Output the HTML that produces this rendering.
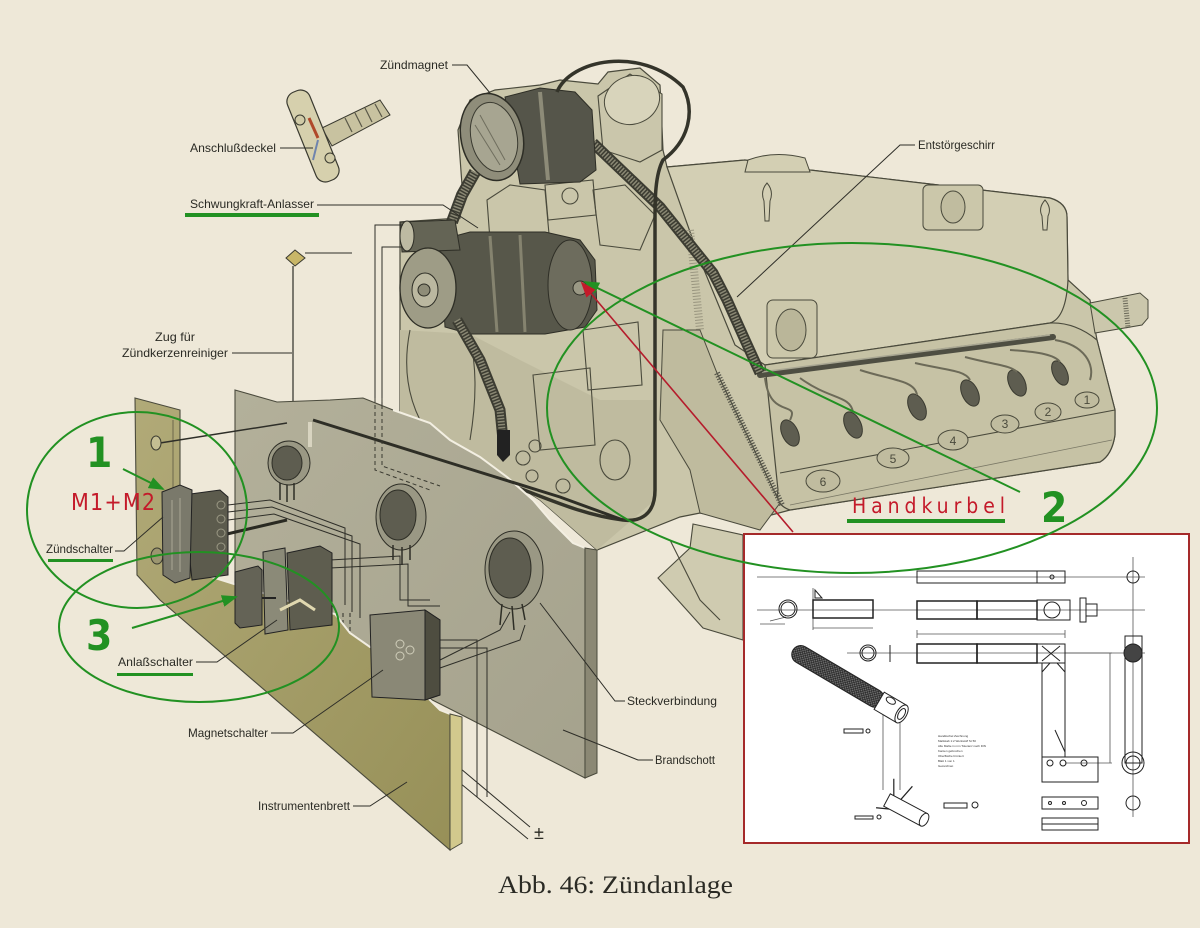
<!DOCTYPE html>
<html><head><meta charset="utf-8">
<style>
html,body{margin:0;padding:0;background:#eee8d8;}
svg{display:block}
.lbl{font-family:"Liberation Sans","DejaVu Sans",sans-serif;font-size:12px;fill:#2a2a24}
.ld{stroke:#2e2e28;stroke-width:1;fill:none}
.ol{stroke:#4a4a3c;stroke-width:1.1;fill:none}
.num{font-family:"Liberation Sans Narrow","DejaVu Sans Condensed","Liberation Sans",sans-serif;fill:#229122;font-weight:bold}
.red{font-family:"Liberation Sans Narrow","DejaVu Sans Condensed","Liberation Sans",sans-serif;fill:#c41a2a}
.tiny{font-family:"Liberation Sans",sans-serif;font-size:3px;fill:#333}
</style></head><body>
<svg width="1200" height="928" viewBox="0 0 1200 928" xmlns="http://www.w3.org/2000/svg">
<defs>
 <marker id="ag" markerUnits="userSpaceOnUse" markerWidth="16" markerHeight="12" refX="14" refY="6" orient="auto"><path d="M0,0 L16,6 L0,12 z" fill="#229122"/></marker>
 <marker id="ar" markerUnits="userSpaceOnUse" markerWidth="16" markerHeight="12" refX="14" refY="6" orient="auto"><path d="M0,0 L16,6 L0,12 z" fill="#c41a2a"/></marker>
 <linearGradient id="ib" x1="0" y1="0" x2="1" y2="1">
  <stop offset="0" stop-color="#b1aa78"/><stop offset="1" stop-color="#979058"/>
 </linearGradient>
 <linearGradient id="bs" x1="0" y1="0" x2="1" y2="1">
  <stop offset="0" stop-color="#b3b09a"/><stop offset="1" stop-color="#a5a28d"/>
 </linearGradient>
 <pattern id="knurl" width="3" height="3" patternUnits="userSpaceOnUse"><rect width="3" height="3" fill="#777"/><path d="M0,0 L3,3 M3,0 L0,3" stroke="#222" stroke-width="0.7"/></pattern>
</defs>
<rect width="1200" height="928" fill="#eee8d8"/>

<!-- ================= ENGINE ================= -->
<path d="M400,222 L460,218 L462,185 L458,130 L470,100 L495,90 L540,85 L560,80 L598,84 L608,72 L640,68 L660,85 L663,150 L667,167 L745,160 L810,170 L1050,198 Q1067,203 1067,217 L1068,280 L1090,300 L1097,340 L1115,410 L1115,435 Q1112,455 1100,462 L790,510 L745,522 L700,513 L680,517 L597,550 L540,500 L470,455 L400,420 Z" fill="#cac6aa" stroke="#4a4a3c" stroke-width="1.2"/>
<path d="M400,330 L470,334 L520,360 L600,400 L655,400 L655,500 L597,550 L540,500 L470,455 L400,420 Z" fill="#bfbb9f"/>
<path d="M693,524 L743,535 L743,640 L703,628 L658,578 L690,548 Z" fill="#cfcbb0" stroke="#4a4a3c" stroke-width="1.1"/>
<path d="M670,540 L700,600 L720,620" class="ol"/>
<!-- valve cover -->
<path d="M667,167 L745,160 L810,170 L1050,198 Q1067,203 1067,217 L1068,280 Q1066,318 1050,323 L765,365 L735,345 L700,260 Z" fill="#d3cfb4" stroke="#4a4a3c" stroke-width="1.2"/>
<path d="M745,172 L748,160 Q775,150 805,158 L810,172 Z" fill="#d3cfb3" stroke="#4a4a3c"/>
<path d="M767,183 q-7,8 -3,18 l1,20 l4,0 l1,-20 q4,-10 -3,-18 z" fill="none" stroke="#4a4a3c"/>
<rect x="923" y="185" width="60" height="45" rx="5" fill="#cbc7aa" stroke="#4a4a3c"/>
<ellipse cx="953" cy="207" rx="12" ry="16" fill="#c0bc9f" stroke="#4a4a3c"/>
<path d="M1045,200 q-7,8 -3,16 l1,14 l4,0 l1,-14 q4,-8 -3,-16 z" fill="none" stroke="#4a4a3c"/>
<rect x="767" y="300" width="50" height="58" rx="6" fill="#cbc7aa" stroke="#4a4a3c"/>
<ellipse cx="791" cy="330" rx="15" ry="21" fill="#bab699" stroke="#4a4a3c"/>
<path d="M690,230 L700,330" stroke="#9a9680" stroke-width="8" stroke-dasharray="1 2"/>
<!-- lower block -->
<path d="M765,365 L1050,323 Q1075,322 1097,340 L1115,410 L1115,435 Q1112,455 1100,462 L790,510 Q775,505 778,490 Z" fill="#c6c2a5" stroke="#4a4a3c" stroke-width="1.2"/>
<path d="M780,473 L1115,410" class="ol"/>
<path d="M790,505 L1112,440" stroke="#7a7866" stroke-width="0.8" fill="none"/>
<path d="M700,330 L717,373 L780,503 L760,530 L700,513 L690,470 L660,420 L663,330 Z" fill="#bfbb9e" stroke="#4a4a3c"/>
<path d="M717,373 L782,505" stroke="#55554a" stroke-width="6" stroke-dasharray="1.2 1.6"/>
<g stroke="#4a4a3c" stroke-width="1" fill="#c0bc9f">
 <ellipse cx="823" cy="481" rx="17" ry="11"/>
 <ellipse cx="893" cy="458" rx="16" ry="10"/>
 <ellipse cx="953" cy="440" rx="15" ry="10"/>
 <ellipse cx="1005" cy="424" rx="14" ry="9"/>
 <ellipse cx="1048" cy="412" rx="13" ry="9"/>
 <ellipse cx="1087" cy="400" rx="12" ry="8"/>
</g>
<g font-family="Liberation Sans,sans-serif" font-size="12" fill="#4a4a3c" text-anchor="middle">
 <text x="823" y="486">6</text><text x="893" y="463">5</text><text x="953" y="445">4</text>
 <text x="1005" y="428">3</text><text x="1048" y="416">2</text><text x="1087" y="404">1</text>
</g>
<!-- shaft right -->
<path d="M1090,303 L1140,293 L1148,300 L1148,318 L1142,325 L1095,333 Z" fill="#cbc7ac" stroke="#4a4a3c"/>
<path d="M1125,298 L1128,328" stroke="#6a6858" stroke-width="5" stroke-dasharray="1 1.5"/>
<!-- spark plug rail -->
<path d="M760,375 L1053,337" stroke="#4e4e42" stroke-width="6" stroke-linecap="round"/>
<path d="M762,372 L1050,335" stroke="#a8a692" stroke-width="1.5"/>
<g fill="#5e5d50" stroke="#3a3a30" stroke-width="1">
 <ellipse cx="790" cy="433" rx="8" ry="14" transform="rotate(-25 790 433)"/>
 <ellipse cx="853" cy="425" rx="8" ry="14" transform="rotate(-25 853 425)"/>
 <ellipse cx="917" cy="407" rx="8" ry="14" transform="rotate(-25 917 407)"/>
 <ellipse cx="970" cy="393" rx="8" ry="14" transform="rotate(-25 970 393)"/>
 <ellipse cx="1017" cy="383" rx="8" ry="14" transform="rotate(-25 1017 383)"/>
 <ellipse cx="1060" cy="373" rx="7" ry="13" transform="rotate(-25 1060 373)"/>
</g>
<path d="M765,378 C770,420 800,400 790,420 M800,378 C830,400 850,395 853,412 M860,370 C890,380 915,380 917,395 M915,363 C945,370 965,370 970,380 M965,357 C995,365 1010,365 1017,372 M1010,350 C1040,352 1055,355 1060,362 M1055,340 C1085,345 1095,365 1090,380" stroke="#6c6a58" stroke-width="2" fill="none"/>
<!-- middle engine details -->
<path d="M487,200 L510,185 L545,190 L550,245 L520,252 L490,240 Z" fill="#c6c2a6" class="ol"/>
<path d="M545,185 L593,180 L596,215 L548,220 Z" fill="#d0ccb2" class="ol"/>
<circle cx="570" cy="196" r="8" class="ol"/>
<path d="M593,190 L625,185 L655,215 L640,250 L600,245 Z" fill="#cac6aa" class="ol"/>
<path d="M533,375 L590,368 L595,445 L540,450 Z" fill="#d0ccb2" class="ol"/>
<path d="M583,330 L638,322 L642,385 L588,390 Z" fill="#ccc8ad" class="ol"/>
<circle cx="523" cy="458" r="7" class="ol"/><circle cx="535" cy="446" r="6" class="ol"/><circle cx="532" cy="476" r="6" class="ol"/><circle cx="563" cy="486" r="7" class="ol"/>
<ellipse cx="615" cy="460" rx="15" ry="20" class="ol"/>
<path d="M410,330 Q400,380 420,420 M470,340 Q480,380 470,440" class="ol"/>
<!-- intake pipe -->
<path d="M598,96 L630,74 L662,94 L662,150 L640,162 L603,150 Z" fill="#cac6ab" stroke="#4a4a3c" stroke-width="1.1"/>
<ellipse cx="632" cy="100" rx="28" ry="24" transform="rotate(-20 632 100)" fill="#d8d4bb" stroke="#4a4a3c"/>
<!-- conduit magneto to plug rail -->
<path d="M593,143 L660,207 L713,273 L727,300 L745,340 L760,373" stroke="#3c3c32" stroke-width="11" fill="none" stroke-linejoin="round"/>
<path d="M593,143 L660,207 L713,273 L727,300 L745,340 L760,373" stroke="#8a8874" stroke-width="7" fill="none" stroke-dasharray="1.5 1.5"/>
<!-- magneto -->
<path d="M505,97 L540,88 L575,92 L592,110 L596,170 L580,182 L520,184 Z" fill="#55554a" stroke="#2e2e26"/>
<path d="M540,92 L548,180" stroke="#8d8b78" stroke-width="4"/>
<ellipse cx="492" cy="137" rx="31" ry="44" transform="rotate(-12 492 137)" fill="#8f8d7a" stroke="#2e2e26" stroke-width="1.5"/>
<ellipse cx="494" cy="137" rx="23" ry="35" transform="rotate(-12 494 137)" fill="#a7a591" stroke="#3a3a30"/>
<path d="M480,115 L505,160 M475,125 L500,165" stroke="#6f6e5e" stroke-width="1"/>
<!-- conduit magneto to starter -->
<path d="M475,172 L462,195 L452,222" stroke="#3c3c32" stroke-width="12" fill="none"/>
<path d="M475,172 L462,195 L452,222" stroke="#8a8874" stroke-width="8" fill="none" stroke-dasharray="1.5 1.5"/>
<!-- starter -->
<path d="M440,240 L470,232 L545,232 L580,240 L595,260 L597,310 L585,327 L545,334 L470,334 L445,327 Z" fill="#57574a" stroke="#2e2e26"/>
<ellipse cx="570" cy="285" rx="22" ry="45" fill="#6d6c5d" stroke="#2e2e26"/>
<circle cx="580" cy="288" r="7" fill="#9a9884" stroke="#2e2e26"/>
<path d="M490,236 L497,332 M520,235 L525,332" stroke="#85836f" stroke-width="3"/>
<path d="M400,222 L455,220 L460,250 L402,252 Z" fill="#646455" stroke="#2e2e26"/>
<ellipse cx="407" cy="236" rx="7" ry="15" fill="#bdbaa2" stroke="#2e2e26"/>
<ellipse cx="428" cy="288" rx="28" ry="40" fill="#9e9c86" stroke="#2e2e26" stroke-width="1.3"/>
<ellipse cx="425" cy="290" rx="13" ry="17" fill="#bbb8a0" stroke="#2e2e26"/>
<circle cx="424" cy="290" r="6" fill="#8f8d78" stroke="#2e2e26"/>
<path d="M457,320 L480,360 L500,410 L503,440" stroke="#3c3c32" stroke-width="11" fill="none"/>
<path d="M457,320 L480,360 L500,410 L503,440" stroke="#8a8874" stroke-width="7" fill="none" stroke-dasharray="1.5 1.5"/>
<path d="M497,430 L510,430 L510,455 L503,462 L497,455 Z" fill="#222"/>
<!-- loop cable -->
<path d="M557,92 C570,60 640,45 683,87 C695,110 690,140 663,160 C655,175 655,200 655,220 L655,490 C655,515 640,522 623,520 C580,515 540,495 497,480 L380,440 L313,420" stroke="#34342a" stroke-width="3.5" fill="none"/>
<!-- Anschlussdeckel part -->
<g>
 <path d="M322,128 L380,100 L390,115 L332,146 Z" fill="#c8c2a0" stroke="#3a3a30"/>
 <path d="M345,118 L352,132 M355,113 L362,127 M365,108 L372,122 M375,104 L382,117" stroke="#5a5848" stroke-width="1.2"/>
 <rect x="301" y="88" width="24" height="96" rx="10" transform="rotate(-22 313 136)" fill="#d6d0ad" stroke="#3a3a30" stroke-width="1.2"/>
 <circle cx="300" cy="120" r="5" fill="#d0caa6" stroke="#3a3a30"/>
 <circle cx="330" cy="158" r="5" fill="#d0caa6" stroke="#3a3a30"/>
 <path d="M309,118 L318,138" stroke="#b0492a" stroke-width="3"/>
 <path d="M318,140 L313,160" stroke="#6f84ad" stroke-width="2"/>
</g>
<!-- spark plug cleaner pull -->
<path d="M286,258 L295,250 L305,258 L295,266 Z" fill="#c8b668" stroke="#3a3a30"/>
<path d="M305,253 L352,253" class="ld"/>
<path d="M293,266 L293,425" stroke="#2e2e28" stroke-width="1.2"/>
<!-- starter wires -->
<path d="M403,225 L375,225 L375,470" stroke="#2e2e28" stroke-width="1" fill="none"/>
<path d="M402,247 L382,247 L382,470" stroke="#2e2e28" stroke-width="1" fill="none"/>

<!-- ================= BRANDSCHOTT ================= -->
<path d="M235,390 L277,402 L330,400 L363,398 L393,410 L430,423 L450,440 L480,457 L507,477 L533,500 L550,520 L573,543 L585,548 L585,778 L460,714 L235,600 Z" fill="url(#bs)" stroke="#4a4a3c" stroke-width="1.1"/>
<path d="M393,410 L430,423 L450,440 L480,457 L507,477 L533,500 L550,520 L573,543 L585,548" stroke="#f3efe2" stroke-width="2" fill="none"/>
<path d="M585,548 L597,550 L597,773 L585,778 Z" fill="#8b8874" stroke="#4a4a3c"/>
<path d="M313,420 L460,466 L560,497 L623,520" stroke="#2e2e26" stroke-width="3" fill="none"/>
<path d="M310,422 L310,447" stroke="#d8d4c0" stroke-width="4"/>
<path d="M375,398 L375,470 L430,490 M382,398 L382,466 L440,486" stroke="#3a3a30" stroke-width="1" stroke-dasharray="4 3" fill="none"/>
<!-- gauges -->
<g stroke="#2e2e26">
 <ellipse cx="289" cy="463" rx="21" ry="22" fill="#9a9884"/>
 <ellipse cx="287" cy="463" rx="15" ry="17" fill="#5e5d50"/>
 <path d="M280,483 L280,500 M287,485 L287,502 M294,483 L294,500" stroke-width="1.5"/>
 <ellipse cx="401" cy="517" rx="25" ry="33" fill="#9a9884"/>
 <ellipse cx="398" cy="515" rx="18" ry="25" fill="#5e5d50"/>
 <path d="M393,545 L393,560 M402,547 L402,565 M410,545 L410,560" stroke-width="1.5"/>
 <ellipse cx="514" cy="570" rx="29" ry="39" fill="#9a9884"/>
 <ellipse cx="510" cy="568" rx="21" ry="30" fill="#5e5d50"/>
 <path d="M502,604 L500,625 M512,606 L514,630 M522,604 L525,620" stroke-width="1.5"/>
</g>
<!-- wires on brandschott -->
<g stroke="#2e2e28" stroke-width="1" fill="none">
 <path d="M228,505 L270,500 L345,528 L345,605"/>
 <path d="M228,512 L272,507 L352,536 L352,612"/>
 <path d="M228,520 L274,514 L360,544 L360,618"/>
 <path d="M330,560 L400,556 L400,600 L430,600"/>
 <path d="M330,568 L408,564 L408,606 L440,606"/>
 <path d="M440,640 L477,640 L477,797"/>
 <path d="M440,648 L487,648 L487,797"/>
 <path d="M440,660 L500,630 L510,612"/>
 <path d="M440,668 L520,640 L525,625"/>
 <path d="M347,673 L530,827"/>
 <path d="M347,690 L528,839"/>
 <path d="M343,613 L343,713 M350,613 L350,713" stroke-dasharray="4 3"/>
</g>
<path d="M227,534 L287,520" stroke="#2a2a22" stroke-width="3"/>

<!-- ================= INSTRUMENTENBRETT ================= -->
<path d="M135,398 L180,410 L180,567 L317,610 L335,614 L350,633 L370,647 L385,648 L397,663 L420,690 L440,710 L450,714 L450,850 L160,600 L137,575 Z" fill="url(#ib)" stroke="#4a4a3c" stroke-width="1.1"/>
<path d="M180,567 L317,610 L335,614 L350,633 L370,647 L385,648 L397,663 L420,690 L440,710 L450,714" stroke="#f1ede0" stroke-width="2" fill="none"/>
<path d="M450,714 L462,717 L462,843 L450,850 Z" fill="#d2c98d" stroke="#4a4a3c"/>
<path d="M173,420 L173,560" stroke="#8d8760" stroke-width="2"/>
<path d="M160,443 L287,423" stroke="#2e2e28" stroke-width="1.5"/>
<ellipse cx="156" cy="443" rx="5" ry="7" fill="#c4be92" stroke="#3a3a30"/>
<ellipse cx="157" cy="556" rx="6" ry="8" fill="#9c9670" stroke="#3a3a30"/>
<!-- Zündschalter -->
<path d="M183,495 L220,490 L228,497 L228,575 L192,580 Z" fill="#5c5b4d" stroke="#222"/>
<path d="M162,492 L180,485 L192,490 L190,578 L175,583 L163,575 Z" fill="#7a796b" stroke="#222"/>
<g fill="none" stroke="#9a9884"><circle cx="221" cy="505" r="4"/><circle cx="221" cy="519" r="4"/><circle cx="221" cy="533" r="4"/><circle cx="221" cy="547" r="4"/></g>
<path d="M172,500 L172,570 M180,498 L180,572" stroke="#a9a796" stroke-width="1"/>
<!-- Anlaßschalter -->
<path d="M287,553 L320,546 L332,553 L332,625 L290,630 Z" fill="#5e5d4f" stroke="#222"/>
<path d="M263,552 L285,548 L288,630 L265,634 Z" fill="#8b8a78" stroke="#222"/>
<path d="M235,572 L258,566 L262,570 L262,625 L240,628 L235,623 Z" fill="#646356" stroke="#222"/>
<path d="M262,598 L276,598" stroke="#222" stroke-width="2"/>
<path d="M280,610 L300,600 L315,610" stroke="#e0d8b0" stroke-width="3" fill="none"/>
<!-- Magnetschalter -->
<path d="M370,615 L425,610 L440,620 L440,695 L425,700 L372,697 Z" fill="#8a8876" stroke="#222"/>
<path d="M425,610 L440,620 L440,695 L425,700 Z" fill="#4e4d40" stroke="#222"/>
<g fill="none" stroke="#d0ceba"><circle cx="400" cy="644" r="4"/><circle cx="400" cy="656" r="4"/><circle cx="410" cy="650" r="4"/></g>

<!-- ================= LABELS ================= -->
<text class="lbl" x="380" y="69" textLength="68" lengthAdjust="spacingAndGlyphs">Zündmagnet</text>
<path class="ld" d="M452,65 H467 L490,93"/>
<text class="lbl" x="190" y="152" textLength="86" lengthAdjust="spacingAndGlyphs">Anschlußdeckel</text>
<path class="ld" d="M280,148 H313"/>
<text class="lbl" x="190" y="208" textLength="124" lengthAdjust="spacingAndGlyphs">Schwungkraft-Anlasser</text>
<path class="ld" d="M317,205 H443 L478,228"/>
<text class="lbl" x="918" y="149" textLength="77" lengthAdjust="spacingAndGlyphs">Entstörgeschirr</text>
<path class="ld" d="M915,145 H900 L737,297"/>
<text class="lbl" x="155" y="341" textLength="40" lengthAdjust="spacingAndGlyphs">Zug für</text>
<text class="lbl" x="122" y="357" textLength="106" lengthAdjust="spacingAndGlyphs">Zündkerzenreiniger</text>
<path class="ld" d="M232,353 H292"/>
<text class="lbl" x="46" y="553" textLength="67" lengthAdjust="spacingAndGlyphs">Zündschalter</text>
<path class="ld" d="M115,551 H124 L163,517"/>
<text class="lbl" x="118" y="666" textLength="75" lengthAdjust="spacingAndGlyphs">Anlaßschalter</text>
<path class="ld" d="M196,662 H217 L277,620"/>
<text class="lbl" x="188" y="737" textLength="80" lengthAdjust="spacingAndGlyphs">Magnetschalter</text>
<path class="ld" d="M271,733 H293 L383,670"/>
<text class="lbl" x="258" y="810" textLength="92" lengthAdjust="spacingAndGlyphs">Instrumentenbrett</text>
<path class="ld" d="M353,806 H370 L407,782"/>
<text class="lbl" x="627" y="705" textLength="90" lengthAdjust="spacingAndGlyphs">Steckverbindung</text>
<path class="ld" d="M625,701 H615 L540,603"/>
<text class="lbl" x="655" y="764" textLength="60" lengthAdjust="spacingAndGlyphs">Brandschott</text>
<path class="ld" d="M653,760 H638 L563,730"/>
<text x="534" y="839" font-family="Liberation Sans,sans-serif" font-size="18" fill="#2a2a24">±</text>
<text x="498" y="893" font-family="Liberation Serif,serif" font-size="25" fill="#2a2a24" textLength="235" lengthAdjust="spacingAndGlyphs">Abb. 46: Zündanlage</text>

<!-- ================= INSET ================= -->
<rect x="744" y="534" width="445" height="309" fill="#ffffff" stroke="#a52a2a" stroke-width="2"/>
<g stroke="#555" stroke-width="0.8" fill="none">
 <path d="M757,577 H1145 M757,610 H1145 M847,653 H1145 M1133,557 V817"/>
 <path d="M813,588 V630 M813,628 H873 M917,634 H1065 M917,630 V638 M1065,630 V638"/>
 <path d="M1065,653 H1112 M1065,763 H1112 M1110,653 V763"/>
 <path d="M883,712 V790 M900,712 V790"/>
 <path d="M770,621 L786,617 M760,624 H785"/>
</g>
<g stroke="#222" stroke-width="1" fill="none">
 <rect x="917" y="571" width="148" height="12"/><path d="M1037,571 V583"/><circle cx="1052" cy="577" r="2"/>
 <circle cx="788" cy="609" r="9"/><circle cx="788" cy="609" r="7"/>
 <path d="M815,590 L822,598 L815,598 Z"/>
 <rect x="813" y="600" width="60" height="18" stroke-width="1.5"/>
 <rect x="917" y="601" width="60" height="18" stroke-width="1.5"/><rect x="977" y="601" width="60" height="18" stroke-width="1.5"/>
 <rect x="1037" y="600" width="33" height="20"/><circle cx="1052" cy="610" r="8"/>
 <rect x="1080" y="598" width="6" height="24"/><rect x="1086" y="604" width="11" height="12"/>
 <circle cx="868" cy="653" r="8"/><circle cx="868" cy="653" r="6"/><path d="M890,645 V662"/>
 <rect x="917" y="644" width="60" height="19" stroke-width="1.5"/><rect x="977" y="644" width="60" height="19" stroke-width="1.5"/>
 <rect x="1037" y="644" width="28" height="19"/><path d="M1042,646 L1060,661 M1060,646 L1042,661"/>
 <rect x="1042" y="663" width="23" height="94"/><path d="M1042,672 L1050,663 M1065,672 L1057,663 M1055,730 L1065,752"/>
 <rect x="1042" y="757" width="56" height="25"/><circle cx="1050" cy="763" r="3"/><circle cx="1063" cy="763" r="3"/><circle cx="1084" cy="763" r="3"/>
 <circle cx="1133" cy="577" r="6"/>
 <rect x="1125" y="636" width="17" height="127"/>
 <circle cx="1133" cy="763" r="11"/><circle cx="1133" cy="763" r="7"/>
 <circle cx="1133" cy="803" r="7"/>
 <rect x="1042" y="797" width="56" height="12"/><circle cx="1050" cy="803" r="1.5"/><circle cx="1064" cy="803" r="1.5"/><circle cx="1084" cy="803" r="2.5"/>
 <rect x="1042" y="818" width="56" height="12"/><path d="M1042,824 H1098"/>
 <rect x="844" y="729" width="19" height="4"/><circle cx="868" cy="731" r="2"/>
 <rect x="944" y="803" width="23" height="5"/><circle cx="975" cy="805" r="3"/>
 <rect x="855" y="816" width="18" height="3"/><circle cx="879" cy="817" r="2"/>
</g>
<circle cx="1133" cy="653" r="9" fill="#444" stroke="#222"/>
<g transform="translate(793,650) rotate(30.5)">
 <rect x="0" y="-9" width="104" height="18" rx="9" fill="url(#knurl)" stroke="#222"/>
 <rect x="100" y="-10" width="26" height="20" fill="#fff" stroke="#222"/>
 <ellipse cx="126" cy="0" rx="5" ry="10" fill="#fff" stroke="#222"/>
 <ellipse cx="126" cy="0" rx="3" ry="6" fill="none" stroke="#222"/>
 <ellipse cx="110" cy="-6" rx="5" ry="3" fill="none" stroke="#222"/>
</g>
<g transform="translate(887,800) rotate(28)">
 <rect x="0" y="-7" width="42" height="14" fill="#fff" stroke="#222"/>
 <ellipse cx="42" cy="0" rx="4" ry="7" fill="#fff" stroke="#222"/>
 <path d="M4,-7 L-4,-22 M12,-7 L16,-24 M6,7 L-6,12" stroke="#222" stroke-width="1.2"/>
</g>
<g class="tiny">
 <text x="938" y="737">Handkurbel Zeichnung</text>
 <text x="938" y="742">Maßstab 1:2 Werkstoff St 50</text>
 <text x="938" y="747">Alle Maße in mm Toleranz nach DIN</text>
 <text x="938" y="752">Kanten gebrochen</text>
 <text x="938" y="757">Oberfläche brüniert</text>
 <text x="938" y="762">Blatt 1 von 1</text>
 <text x="938" y="767">Gezeichnet</text>
</g>

<!-- ================= ANNOTATIONS ================= -->
<ellipse cx="137" cy="510" rx="110" ry="98" fill="none" stroke="#229122" stroke-width="2"/>
<ellipse cx="199" cy="627" rx="140" ry="75" fill="none" stroke="#229122" stroke-width="2"/>
<ellipse cx="852" cy="408" rx="305" ry="165" fill="none" stroke="#229122" stroke-width="2"/>
<path d="M123,469 L163,489" stroke="#229122" stroke-width="2" marker-end="url(#ag)"/>
<path d="M132,628 L236,597" stroke="#229122" stroke-width="2" marker-end="url(#ag)"/>
<path d="M1020,492 L585,282" stroke="#229122" stroke-width="2" marker-end="url(#ag)"/>
<path d="M793,532 L582,283" stroke="#b51c2c" stroke-width="1.6" marker-end="url(#ar)"/>
<text class="num" x="86" y="467" font-size="42">1</text>
<text class="num" x="86" y="650" font-size="42">3</text>
<text class="num" x="1041" y="522" font-size="42">2</text>
<text class="red" x="71" y="510" font-size="23" textLength="84" lengthAdjust="spacing">M1+M2</text>
<text class="red" x="852" y="513" font-size="21" textLength="153" lengthAdjust="spacing">Handkurbel</text>
<rect x="185" y="213" width="134" height="4" fill="#229122"/>
<rect x="48" y="559" width="65" height="3" fill="#229122"/>
<rect x="117" y="673" width="76" height="3" fill="#229122"/>
<rect x="847" y="519" width="158" height="4" fill="#229122"/>
</svg>
</body></html>
